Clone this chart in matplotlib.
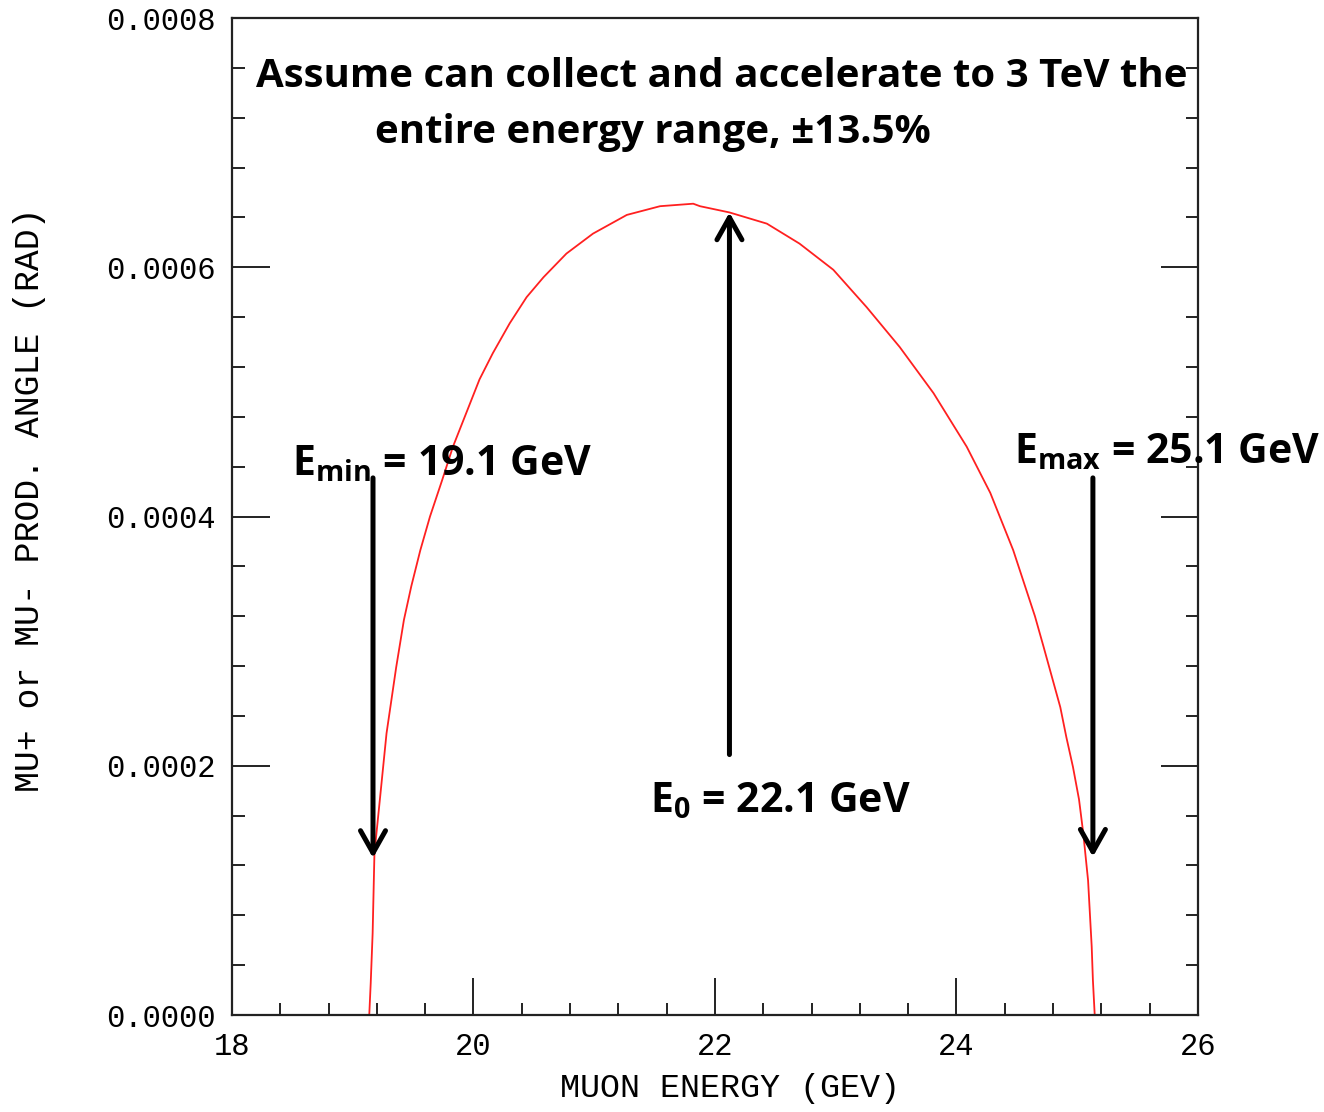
import numpy as np
import matplotlib
matplotlib.use('Agg')
import matplotlib.pyplot as plt
from matplotlib.ticker import MultipleLocator, FormatStrFormatter

#===============================================================================
# curve (muon energy vs production angle)
energy = [19.137, 19.149, 19.165, 19.18, 19.225, 19.28, 19.36, 19.424, 19.485, 19.56,
          19.64, 19.74, 19.83, 19.94, 20.05, 20.16, 20.30, 20.44, 20.58, 20.77,
          20.99, 21.27, 21.545, 21.82, 21.876, 22.12, 22.43, 22.70, 22.98, 23.256,
          23.53, 23.81, 24.085, 24.28, 24.47, 24.65, 24.72, 24.86, 24.91, 24.965,
          25.015, 25.05, 25.09, 25.12, 25.13, 25.145]
angle  = [0.0, 0.0000254, 0.0000656, 0.000130, 0.000173, 0.000226, 0.000279, 0.000317,
          0.000344, 0.000373, 0.000400, 0.000429, 0.000456, 0.000483, 0.000510,
          0.000531, 0.000555, 0.000576, 0.000592, 0.000611, 0.000627, 0.000642,
          0.000649, 0.000651, 0.000649, 0.000644, 0.000635, 0.000619, 0.000598,
          0.000568, 0.000536, 0.000499, 0.000456, 0.000419, 0.000373, 0.000320,
          0.000296, 0.000247, 0.000223, 0.000199, 0.000173, 0.000146, 0.000108,
          0.000055, 0.000028, 0.0]

# arrows: x, start y, tip y
arrow_x     = [19.168, 22.12, 25.13]
arrow_start = [0.000431, 0.000209, 0.000431]
arrow_tip   = [0.000126, 0.000644, 0.000127]

labels   = [r'$\mathrm{E_{min}}$ = 19.1 GeV', r'$\mathrm{E_{0}}$ = 22.1 GeV',
            r'$\mathrm{E_{max}}$ = 25.1 GeV']
label_x  = [18.497, 21.46, 24.476]
label_y  = [0.000433, 0.000163, 0.000443]

heading = ['Assume can collect and accelerate to 3 TeV the',
           'entire energy range, \u00b113.5%']
#===============================================================================
plt.rcParams['mathtext.fontset'] = 'custom'
plt.rcParams['mathtext.rm'] = 'Open Sans:bold'
plt.rcParams['mathtext.it'] = 'Open Sans:bold'
plt.rcParams['mathtext.bf'] = 'Open Sans:bold'

mono = 'Liberation Mono'
ann = dict(family='Open Sans', weight='bold', color='black')

fig = plt.figure(figsize=(13.24, 11.12), dpi=100)
ax = fig.add_axes([0.1752, 0.0872, 0.7296, 0.8966])

ax.plot(energy, angle, color='#ff2020', lw=1.3)

ax.set_xlim(18, 26)
ax.set_ylim(0, 0.0008)
ax.xaxis.set_major_locator(MultipleLocator(2))
ax.xaxis.set_minor_locator(MultipleLocator(0.4))
ax.yaxis.set_major_locator(MultipleLocator(0.0002))
ax.yaxis.set_minor_locator(MultipleLocator(0.00004))
ax.yaxis.set_major_formatter(FormatStrFormatter('%.4f'))
ax.tick_params(which='both', direction='in', bottom=True, left=True, right=True,
               top=False, width=1.4, color='#222222')
ax.tick_params(which='major', length=27, labelsize=22, pad=12)
ax.tick_params(which='minor', length=9)
for t in ax.get_xticklabels() + ax.get_yticklabels():
    t.set_family(mono)
for s in ax.spines.values():
    s.set_linewidth(1.6)
    s.set_color('#222222')

ax.set_xlabel('MUON ENERGY (GEV)', family=mono, fontsize=24)
ax.set_ylabel('MU+ or MU- PROD. ANGLE (RAD)', family=mono, fontsize=25)
ax.xaxis.set_label_coords(0.516, -0.058)
ax.yaxis.set_label_coords(-0.192, 0.517)

for xa, y0, y1 in zip(arrow_x, arrow_start, arrow_tip):
    ax.annotate('', xy=(xa, y1), xytext=(xa, y0),
                arrowprops=dict(arrowstyle='->,head_length=0.8,head_width=0.45',
                                lw=3.6, color='black', shrinkA=0, shrinkB=0,
                                mutation_scale=20))

for txt, xl, yl in zip(labels, label_x, label_y):
    ax.text(xl, yl, txt, fontsize=29.5, va='baseline', ha='left', clip_on=False, **ann)

ax.text(18.199, 0.000745, heading[0], fontsize=29, va='baseline', ha='left', **ann)
ax.text(19.184, 0.000700, heading[1], fontsize=29, va='baseline', ha='left', **ann)

plt.savefig('out.png', dpi=100)
